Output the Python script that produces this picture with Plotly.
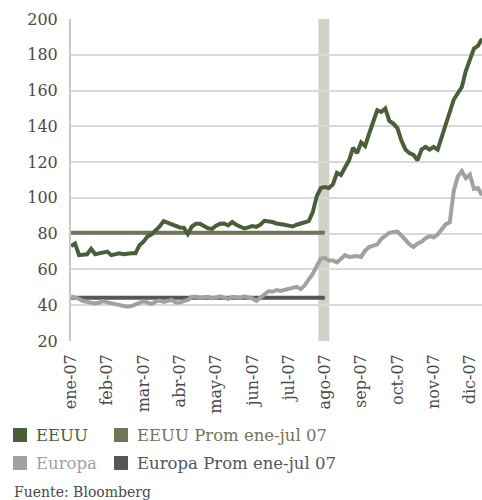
import plotly.graph_objects as go

# Spread series (pb), one sample every ~2.4 trading days of 2007
eeuu = [73, 74.5, 68, 68, 68.5, 71.5, 68.5, 69, 69.5, 70,
        68, 68.4, 69, 68.5, 69, 69, 69, 73.5, 75.5, 78.5,
        79.6, 81.5, 84, 87, 86, 85, 84, 83.5, 83.3, 79.8,
        84, 85.5, 85.5, 84, 83, 82.7, 84.5, 85.5, 85.7, 84.6,
        86.5, 85, 83.8, 82.9, 83.5, 84.2, 83.8, 85, 87.2, 87,
        86.5, 85.7, 85.5, 85, 84.5, 84, 85, 85.8, 86.3, 87,
        92, 101, 105.5, 106, 105.5, 107.5, 114, 112.8, 117, 121,
        128, 125, 131, 129, 136, 143, 149, 148, 150, 143,
        141.5, 139, 132, 127, 125, 124, 121, 127, 128.5, 127,
        128.5, 127, 134, 141, 149, 155, 158.5, 162, 171, 178,
        183.5, 185, 189]

europa = [45, 44.3, 43.5, 42.3, 41.8, 41.2, 41, 41.5, 42.3, 41.6,
          41.2, 40.6, 40.2, 39.6, 39.2, 39.5, 40.4, 41.5, 42.3, 41.5,
          40.8, 42, 42.6, 41.8, 42.5, 43, 41.5, 41.5, 42.3, 43,
          44.8, 44.8, 44.2, 44.5, 44.7, 43.8, 44.3, 45, 44.2, 43.5,
          44.7, 44.5, 44.2, 45, 44.5, 43.8, 42.5, 44.5, 46.5, 47.8,
          47.5, 48.5, 48, 48.5, 49.4, 49.6, 50.3, 49, 51, 54.5,
          57.5, 62, 66, 66.5, 65, 65, 64, 66, 68, 67,
          67.5, 67.5, 67, 70.5, 72.5, 73.5, 74, 77, 79, 80.5,
          81, 81.2, 79, 76.5, 74, 72.5, 74.5, 75.5, 77.5, 78.5,
          78, 79.5, 82, 85.3, 86.3, 104, 112, 115, 111, 113,
          105, 105.5, 101.5]

# Averages over January-July 2007
eeuu_prom = 80.5
europa_prom = 44.2
prom_end = 63          # sample index of the ago-07 label

month_labels = ["ene-07", "feb-07", "mar-07", "abr-07", "may-07", "jun-07",
                "jul-07", "ago-07", "sep-07", "oct-07", "nov-07", "dic-07"]
label_step = 9

# Shaded marker around early August
band_start, band_end = 61.4, 64.1

c_eeuu = "#4a5e3a"
c_eeuu_prom = "#727358"
c_europa = "#a1a1a4"
c_europa_prom = "#55555a"
c_text = "#4a4a4a"
FONT = "DejaVu Serif"

x = list(range(len(eeuu)))
x_prom = list(range(prom_end + 1))

fig = go.Figure()
fig.add_shape(type="rect", xref="x", yref="paper", x0=band_start, x1=band_end,
              y0=0, y1=1, fillcolor="#d3d0c7", line_width=0, layer="below")

fig.add_trace(go.Scatter(x=x_prom, y=[europa_prom] * len(x_prom), mode="lines",
                         line=dict(color=c_europa_prom, width=4), name="Europa Prom ene-jul 07"))
fig.add_trace(go.Scatter(x=x, y=europa, mode="lines",
                         line=dict(color=c_europa, width=4), name="Europa"))
fig.add_trace(go.Scatter(x=x_prom, y=[eeuu_prom] * len(x_prom), mode="lines",
                         line=dict(color=c_eeuu_prom, width=4), name="EEUU Prom ene-jul 07"))
fig.add_trace(go.Scatter(x=x, y=eeuu, mode="lines",
                         line=dict(color=c_eeuu, width=4), name="EEUU"))

fig.update_layout(
    width=482, height=500,
    margin=dict(l=71, r=0, t=19, b=159),
    paper_bgcolor="white", plot_bgcolor="white",
    showlegend=False,
    font=dict(family=FONT, size=16, color=c_text),
)
fig.update_yaxes(range=[20, 200], dtick=20, showgrid=True, gridcolor="#d9d9d9",
                 gridwidth=1.5, zeroline=False, showline=True, linecolor="#c8c8c8",
                 linewidth=2, ticks="", ticklabelstandoff=8,
                 tickfont=dict(family=FONT, size=16, color=c_text))
fig.update_xaxes(range=[0, len(eeuu) - 1], showgrid=False, zeroline=False,
                 showline=False, tickmode="array",
                 tickvals=[i * label_step for i in range(len(month_labels))],
                 ticktext=month_labels, tickangle=-90, ticks="", ticklabelstandoff=9,
                 tickfont=dict(family=FONT, size=16, color=c_text))

# Legend drawn as swatches and coloured labels below the chart
W, H, L, T = 411.0, 322.0, 71.0, 19.0


def px_x(p):
    return (p - L) / W


def px_y(p):
    return (T + H - p) / H


legend_items = [
    ("EEUU", c_eeuu, 13, 435),
    ("EEUU Prom ene-jul 07", c_eeuu_prom, 114, 435),
    ("Europa", c_europa, 13, 463),
    ("Europa Prom ene-jul 07", c_europa_prom, 114, 463),
]
for label, color, x0, yc in legend_items:
    fig.add_shape(type="rect", xref="paper", yref="paper",
                  x0=px_x(x0), x1=px_x(x0 + 14), y0=px_y(yc - 7), y1=px_y(yc + 7),
                  fillcolor=color, line_width=0)
    fig.add_annotation(xref="paper", yref="paper", x=px_x(x0 + 21), y=px_y(yc),
                       xanchor="left", yanchor="middle", showarrow=False, text=label,
                       font=dict(family=FONT, size=16.5, color=color))

fig.add_annotation(xref="paper", yref="paper", x=px_x(12), y=px_y(492),
                   xanchor="left", yanchor="middle", showarrow=False,
                   text="Fuente: Bloomberg",
                   font=dict(family=FONT, size=14, color=c_text))

fig.write_html("out.html")
